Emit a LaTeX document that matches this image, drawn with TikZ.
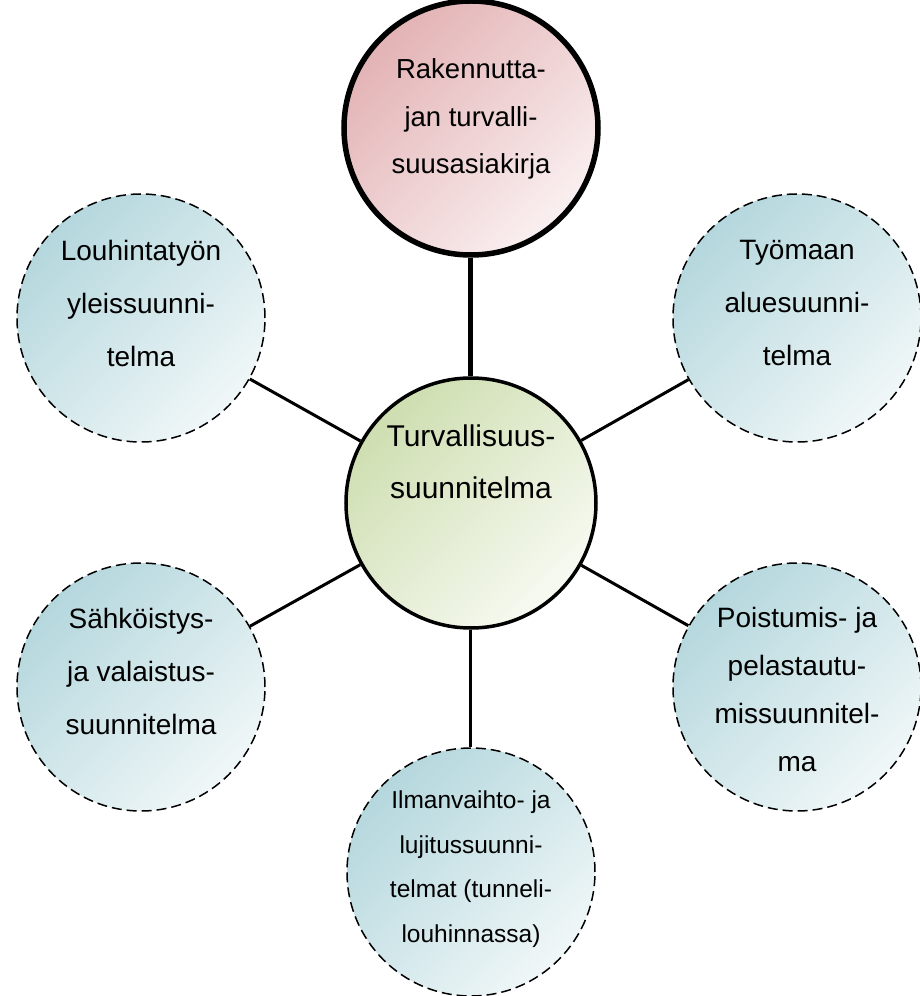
\documentclass[tikz,border=0pt]{standalone}
\usepackage{fontspec}
\setmainfont{Liberation Sans}
\usetikzlibrary{positioning}

\definecolor{hubdark}{RGB}{206,222,176}
\definecolor{hublight}{RGB}{247,250,242}
\definecolor{satdark}{RGB}{180,215,221}
\definecolor{satlight}{RGB}{240,247,248}
\definecolor{topdark}{RGB}{227,178,180}
\definecolor{toplight}{RGB}{250,240,241}

\tikzset{
    hub/.style={circle, draw, line width=3.5pt, minimum size=250pt, inner sep=0pt,
        top color=hubdark, bottom color=hublight, shading angle=45},
    doc/.style={circle, draw, line width=5.5pt, minimum size=254pt, inner sep=0pt,
        top color=topdark, bottom color=toplight, shading angle=45},
    sat/.style={circle, draw, line width=1.5pt, dash pattern=on 10pt off 5pt,
        minimum size=248pt, inner sep=0pt,
        top color=satdark, bottom color=satlight, shading angle=45},
    txt/.style={align=center, inner sep=0pt, font=\fontsize{28pt}{53pt}\selectfont},
    spoke/.style={line width=3pt},
}

\begin{document}
\begin{tikzpicture}[node distance=375pt, on grid]
        \useasboundingbox (-471pt,503pt) rectangle (448pt,-493pt);

        % circles
        \node[hub] (plan) at (0,0) {};
        \node[doc, above=375pt of plan] (asiakirja) {};
        \node[sat, above left=185pt and 330pt of plan] (louhinta) {};
        \node[sat, above right=185pt and 326pt of plan] (tyomaa) {};
        \node[sat, below left=184pt and 330pt of plan] (sahko) {};
        \node[sat, below right=184pt and 326pt of plan] (poistuminen) {};
        \node[sat, below=369pt of plan] (ilmanvaihto) {};

        % spokes
        \draw[spoke, line width=5pt] (asiakirja) -- (plan);
        \draw[spoke] (plan) -- (louhinta);
        \draw[spoke] (plan) -- (tyomaa);
        \draw[spoke] (plan) -- (sahko);
        \draw[spoke] (plan) -- (poistuminen);
        \draw[spoke] (plan) -- (ilmanvaihto);

        % texts
        \node[txt, font=\fontsize{30pt}{52pt}\selectfont, yshift=41pt] (plan-t) at (plan)
            {Turvallisuus-\\suunnitelma};
        \node[txt, font=\fontsize{27.5pt}{47.5pt}\selectfont, yshift=9pt] (asiakirja-t) at (asiakirja)
            {Rakennutta-\\jan turvalli-\\suusasiakirja};
        \node[txt, yshift=15pt] (louhinta-t) at (louhinta)
            {Louhintatyön\\yleissuunni-\\telma};
        \node[txt, yshift=15pt] (tyomaa-t) at (tyomaa)
            {Työmaan\\aluesuunni-\\telma};
        \node[txt, yshift=16pt] (sahko-t) at (sahko)
            {Sähköistys-\\ja valaistus-\\suunnitelma};
        \node[txt, font=\fontsize{28pt}{48pt}\selectfont, yshift=-2pt] (poistuminen-t) at (poistuminen)
            {Poistumis- ja\\pelastautu-\\missuunnitel-\\ma};
        \node[txt, font=\fontsize{24.5pt}{44.5pt}\selectfont, yshift=3pt] (ilmanvaihto-t) at (ilmanvaihto)
            {Ilmanvaihto- ja\\lujitussuunni-\\telmat (tunneli-\\louhinnassa)};
\end{tikzpicture}
\end{document}
